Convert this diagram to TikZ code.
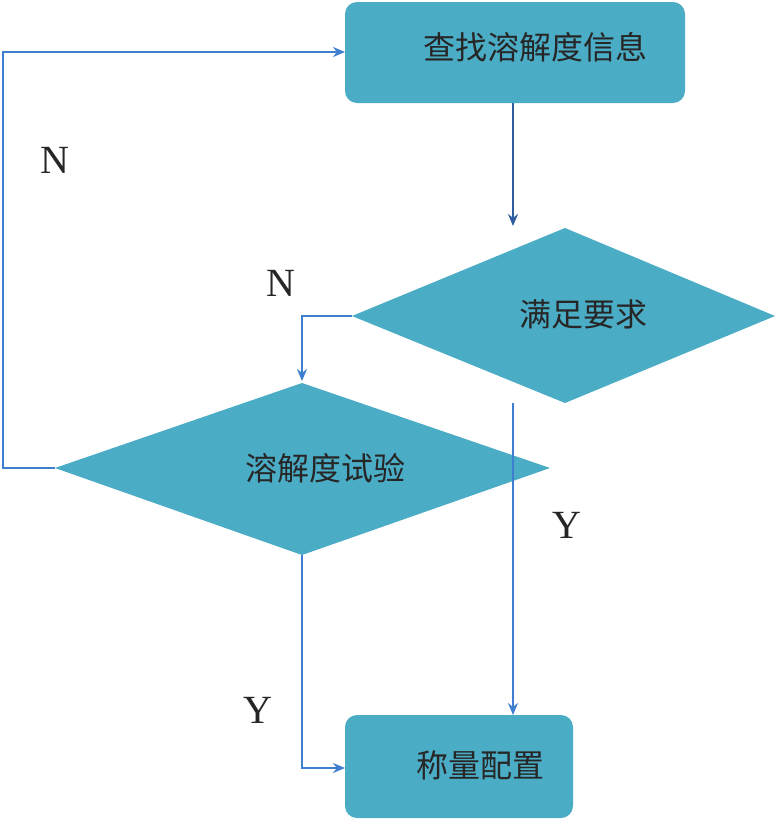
\documentclass[tikz,border=0pt]{standalone}
\usepackage{fontspec}
\setmainfont{Liberation Serif}
\newfontfamily\cjk{Noto Sans CJK SC}
\usetikzlibrary{arrows.meta}
\definecolor{fillc}{HTML}{4BACC6}
\definecolor{linec}{HTML}{3F7FD0}
\definecolor{darkl}{HTML}{2F5E9E}
\begin{document}
\begin{tikzpicture}[x=1pt,y=-1pt,
  boxst/.style={fill=fillc,draw=none,rounded corners=12pt},
  txt/.style={font=\cjk\fontsize{32}{36}\selectfont,text=black!85},
  lab/.style={font=\fontsize{40}{44}\selectfont,text=black!85},
  conn/.style={draw=linec,line width=2.2pt,-{Stealth[length=12pt,width=10pt]}}]
\useasboundingbox (0,0) rectangle (778,820);
\fill[boxst] (345,2) rectangle (685,103);
\node[txt] (t1) at (535,47) {查找溶解度信息};
\coordinate (b1) at (513,103);
\fill[fillc] (352,316) -- (565,228) -- (775,316) -- (565,403) -- cycle;
\node[txt] (t2) at (583,314) {满足要求};
\coordinate (d1l) at (352,316);
\coordinate (d1t) at (513,226);
\fill[fillc] (55,468) -- (302,383) -- (550,468) -- (302,555) -- cycle;
\node[txt] (t3) at (325,468) {溶解度试验};
\coordinate (d2l) at (55,468);
\coordinate (d2t) at (302,381);
\coordinate (d2b) at (302,555);
\fill[boxst] (345,715) rectangle (573,818);
\node[txt] (t4) at (480,765) {称量配置};
\coordinate (b1in) at (345,52);
\coordinate (b4in) at (345,768);
\coordinate (b4t) at (513,715);
\coordinate (d1s) at (513,403);
\draw[conn,draw=darkl] (b1) -- (d1t);
\draw[conn] (d1l) -- (302,316) -- (d2t);
\draw[conn] (d2l) -- (3,468) -- (3,52) -- (b1in);
\draw[conn] (d2b) -- (302,768) -- (b4in);
\draw[conn] (d1s) -- (b4t);
\node[lab] (n1) at (55,160) {N};
\node[lab] (n2) at (281,283) {N};
\node[lab] (y1) at (258,710) {Y};
\node[lab] (y2) at (567,525) {Y};
\end{tikzpicture}
\end{document}
